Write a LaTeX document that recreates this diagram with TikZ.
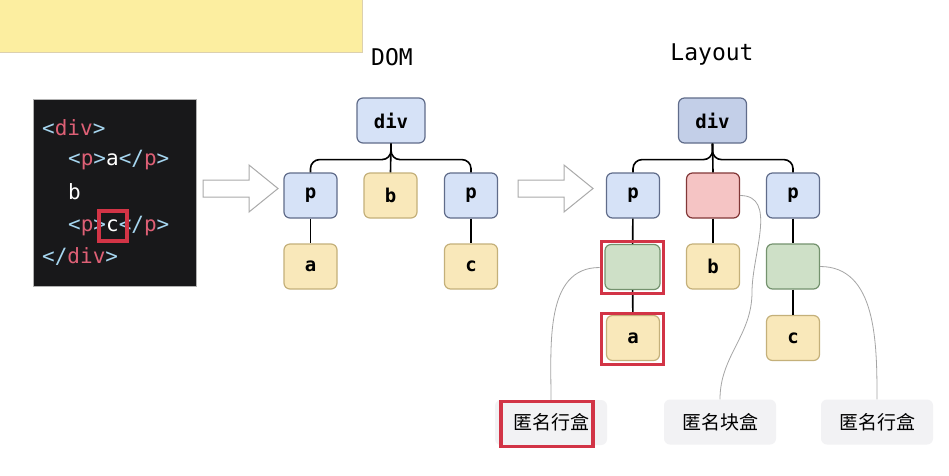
\documentclass[tikz,border=0pt]{standalone}
\usepackage{fontspec}
\setmonofont{DejaVu Sans Mono}
\newfontfamily\cjkfont{Noto Sans CJK SC}
\usetikzlibrary{positioning}
\definecolor{notefill}{RGB}{252,238,160}
\definecolor{codebg}{RGB}{24,24,26}
\definecolor{codetag}{RGB}{222,96,118}
\definecolor{codepunct}{RGB}{166,214,240}
\definecolor{elemblue}{RGB}{214,226,247}
\definecolor{elemblueb}{RGB}{195,207,232}
\definecolor{elemborder}{RGB}{96,108,138}
\definecolor{textyellow}{RGB}{249,232,186}
\definecolor{textborder}{RGB}{196,176,122}
\definecolor{anongreen}{RGB}{206,224,199}
\definecolor{anongreenb}{RGB}{116,146,110}
\definecolor{anonred}{RGB}{245,196,196}
\definecolor{anonredb}{RGB}{130,55,55}
\definecolor{hlred}{RGB}{210,52,70}
\definecolor{labelgray}{RGB}{242,242,244}
\definecolor{guidegray}{RGB}{165,165,165}
\definecolor{arrowgray}{RGB}{170,170,170}
\newcommand{\ctag}[1]{{\color{codetag}#1}}
\newcommand{\cpun}[1]{{\color{codepunct}#1}}

\begin{document}
\begin{tikzpicture}[x=1pt, y=-1pt,
    treebox/.style={draw=elemborder, fill=elemblue, rounded corners=6pt, line width=1.2pt,
      minimum width=53pt, minimum height=45pt, inner sep=0pt,
      font=\ttfamily\bfseries\fontsize{19}{21}\selectfont},
    textbox/.style={treebox, draw=textborder, fill=textyellow},
    anonline/.style={treebox, draw=anongreenb, fill=anongreen},
    anonblock/.style={treebox, draw=anonredb, fill=anonred},
    hlbox/.style={draw=hlred, line width=3.8pt, inner sep=0pt},
    anonlabel/.style={fill=labelgray, rounded corners=6pt, minimum width=112pt,
      minimum height=45pt, font=\cjkfont\fontsize{19}{22}\selectfont},
    codeline/.style={anchor=west, text=white, inner sep=0pt,
      font=\ttfamily\fontsize{21}{24}\selectfont},
    title/.style={font=\ttfamily\fontsize{23}{26}\selectfont},
    link/.style={black, line width=1.6pt},
    guide/.style={guidegray, line width=0.8pt},
    bigarrow/.style={draw=arrowgray, fill=white, line width=1pt, line join=miter},
  ]
  \useasboundingbox (0,0) rectangle (949,475);
  \fill[white] (0,0) rectangle (949,475);

  % sticky note
  \fill[notefill] (0,0) rectangle (362,52);
  \draw[textborder!60, line width=0.8pt] (0,52) -- (362,52) -- (362,0);

  % source code
  \node[fill=codebg, draw=gray!60, minimum width=163pt, minimum height=187pt,
    anchor=north west, inner sep=0pt] (code) at (33,99) {};
  \node[codeline] (line1) at (42,128) {\cpun{<}\ctag{div}\cpun{>}};
  \node[codeline] (line2) at (68,160) {\cpun{<}\ctag{p}\cpun{>}a\cpun{</}\ctag{p}\cpun{>}};
  \node[codeline] (line3) at (68,192) {b};
  \node[codeline] (line4) at (68,226) {\cpun{<}\ctag{p}\cpun{>}c\cpun{</}\ctag{p}\cpun{>}};
  \node[codeline] (line5) at (42,256) {\cpun{</}\ctag{div}\cpun{>}};
  \node[hlbox, minimum width=28pt, minimum height=30pt] (hlc) at (113,226) {};

  % hollow arrows
  \foreach \ax in {203,518}
    \draw[bigarrow] (\ax,180) -- ++(46,0) -- ++(0,-15) -- ++(29,23.5)
      -- ++(-29,23.5) -- ++(0,-15) -- ++(-46,0) -- cycle;

  % DOM tree
  \node[title] (domtitle) at (392,57) {DOM};
  \node[treebox, minimum width=68pt] (ddiv) at (391,120.5) {div};
  \node[treebox] (dp1) at (310.5,195.5) {p};
  \node[textbox] (db) at (390.5,195.5) {b};
  \node[treebox] (dp2) at (471,195.5) {p};
  \node[textbox] (da) at (310.5,266.5) {a};
  \node[textbox] (dc) at (471,266.5) {c};
  \draw[link, rounded corners=9pt] (ddiv.south) -- ++(0,16) -| (dp1.north);
  \draw[link, rounded corners=9pt] (ddiv.south) -- ++(0,16) -| (dp2.north);
  \draw[link] (ddiv.south) -- (db.north);
  \draw[link] (dp1) -- (da);
  \draw[link] (dp2) -- (dc);

  % Layout tree
  \node[title] (laytitle) at (712,55) {Layout};
  \node[treebox, fill=elemblueb, minimum width=68pt] (ldiv) at (712.5,120.5) {div};
  \node[treebox] (lp1) at (633,195.5) {p};
  \node[anonblock] (lblock) at (713,195.5) {};
  \node[treebox] (lp2) at (793,195.5) {p};
  \node[anonline, minimum width=55pt] (lline1) at (632.5,267) {};
  \node[textbox] (lb) at (713,266.5) {b};
  \node[anonline] (lline2) at (793,266.5) {};
  \node[textbox] (la) at (633,338) {a};
  \node[textbox] (lc) at (793,338) {c};
  \draw[link, rounded corners=9pt] (ldiv.south) -- ++(0,16) -| (lp1.north);
  \draw[link, rounded corners=9pt] (ldiv.south) -- ++(0,16) -| (lp2.north);
  \draw[link] (ldiv.south) -- (lblock.north);
  \draw[link] (lp1) -- (lline1);
  \draw[link] (lline1) -- (la);
  \draw[link] (lblock) -- (lb);
  \draw[link] (lp2) -- (lline2);
  \draw[link] (lline2) -- (lc);
  \node[hlbox, minimum width=62pt, minimum height=52pt] (hlline) at (632.5,267.5) {};
  \node[hlbox, minimum width=62pt, minimum height=51pt] (hla) at (632.5,339) {};

  % labels
  \node[anonlabel] (lab1) at (551,422.5) {匿名行盒};
  \node[hlbox, minimum width=92pt, minimum height=45pt] (hllab) at (547,424) {};
  \node[anonlabel] (lab2) at (720,422) {匿名块盒};
  \node[anonlabel] (lab3) at (877,422) {匿名行盒};
  \coordinate (bendb) at (752,292);
  \draw[guide] (hlline.west) to[out=180,in=90] (lab1.north);
  \draw[guide] (lblock.east) to[out=0,in=90] (bendb) to[out=-90,in=90] (lab2.north);
  \draw[guide] (lline2.east) to[out=0,in=90] (lab3.north);
\end{tikzpicture}
\end{document}
